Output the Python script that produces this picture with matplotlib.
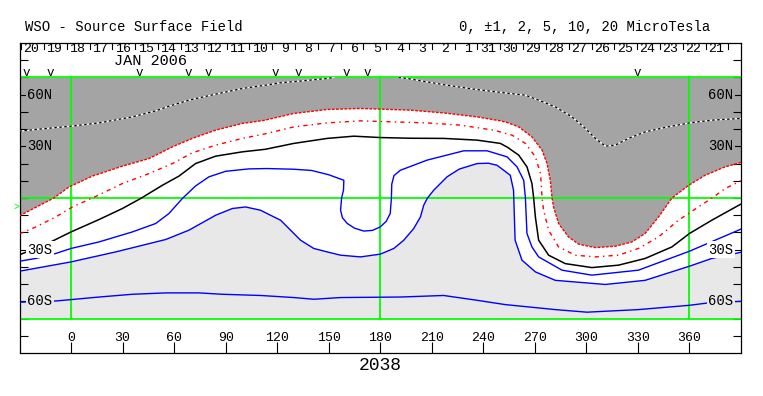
import matplotlib
matplotlib.use('Agg')
import matplotlib.pyplot as plt

plt.rcParams['font.family'] = ['Liberation Mono', 'DejaVu Sans Mono']

# contour lines of the source surface field, (longitude, latitude)
neg5_a = [(-30, 38.8), (-20.5, 39.8), (0, 41.7), (16.3, 43.6), (35.7, 47.1), (49.3, 50.6),
          (57, 53.3), (68.6, 56.8), (84.2, 60.3), (99.7, 63.6), (113.2, 65.5), (122, 66.9),
          (133.6, 67.9), (149, 69.4), (153, 70)]
neg5_b = [(190.6, 70), (195.6, 69.4), (207.3, 67.4), (218.9, 65.5), (234.4, 63.2), (252.8, 61),
          (264.5, 59.7), (272.2, 56.8), (281.9, 52.9), (291.6, 47.1), (299.4, 40.4), (305.2, 34.6),
          (311, 30.1), (316.8, 30.7), (324.5, 34.6), (334.2, 38.4), (345.9, 41), (360, 43.6),
          (373, 45.2), (390, 46.2)]
neg2 = [(-30, -10.3), (-10, 0), (-1.2, 6.4), (12.4, 12.7), (29.9, 18.5), (45.4, 22.9), (59, 29.7),
        (70.6, 34.6), (84.2, 39.4), (99.7, 43.3), (112, 45), (129.7, 49.1), (149.1, 51.4),
        (168.5, 52), (180, 51.6), (197.6, 51), (216.9, 49.4), (236.4, 47.1), (249.9, 44.8),
        (254, 43.8), (260.6, 41.3), (268.3, 35.5), (274.2, 27.8), (277.1, 20), (279, 10.3),
        (280, 0), (280.9, -5.2), (283.8, -14.8), (289.6, -22.6), (295.5, -26.8), (305.2, -28.8),
        (316.8, -28), (326.5, -25.5), (334.2, -20.6), (342, -11), (349.8, 0), (359.6, 7.4),
        (369.1, 13.2), (380.8, 18.1), (390, 20.6)]
neg1 = [(-30, -20.8), (-20.5, -16.8), (-8.9, -11), (0.8, -5.2), (13.5, 0.5), (29.9, 8.4),
        (45.4, 14.2), (59, 20), (70.6, 26.2), (84.2, 30.7), (99.7, 34.6), (113.2, 37.3),
        (129.7, 41.3), (149.1, 43.6), (168.5, 44.8), (187.9, 44.2), (207.3, 43.6), (226.6, 42.3),
        (246, 39.4), (256.7, 36.5), (264.5, 31.7), (270.3, 23.9), (273.3, 14.2), (274.2, 0),
        (275.1, -7.1), (278, -18.7), (283.8, -28.4), (293.5, -33.2), (305.2, -34.2),
        (318.7, -33.2), (330.3, -29.3), (342, -22.6), (353.6, -12.9), (365.2, -5.2),
        (374, 0.6), (380.8, 5.5), (390, 10)]
neutral = [(-30, -33), (-11.8, -25.5), (0, -19.7), (16.3, -12.5), (29.9, -6.1), (40.5, -0.3),
           (53.2, 7.4), (62.8, 12.7), (72.5, 20), (84.2, 24.3), (99.7, 26.8), (113.2, 28.3),
           (129.7, 31.7), (149.1, 34.6), (164.6, 35.9), (180, 35.1), (197.6, 34.7), (216.9, 34.6),
           (236.4, 33.6), (249.9, 31.7), (254, 29.5), (260.6, 24.9), (265.4, 18.1), (268.3, 8.4),
           (269.3, 0), (270.3, -11), (272.2, -24.5), (278, -33.2), (287.7, -38.1), (303.2, -40.4),
           (318.7, -39), (334.2, -35.1), (349.8, -28.4), (360, -20.6), (373, -12.9), (390, -3.5)]
pos1 = [(-30, -36.7), (-20.5, -35.1), (-8.9, -32.2), (0, -29.3), (16.3, -25.5), (35.7, -19.7),
        (49.3, -14.8), (57, -9), (64.8, -0.3), (72.5, 7), (80.3, 12.3), (90, 15.5),
        (103.5, 16.9), (114.2, 17.1), (129.7, 16.7), (140, 16), (150, 13.5), (158.8, 10.3),
        (158.6, 4.5), (157.5, 0), (156.9, -7.1), (158, -11.5), (160.8, -14.8), (165, -17.5),
        (170.4, -19.2), (175.5, -18.8), (180, -16.8), (183.5, -13.5), (185.8, -9), (186.5, 0),
        (186.7, 8), (188, 13), (191.7, 16.1), (207.3, 22), (228.6, 27.4), (242.2, 27.4),
        (253.8, 23.9), (259.6, 18.1), (263.5, 10.3), (264.5, 0), (265.4, -20.6), (268.3, -28.4),
        (272.2, -34.2), (285.8, -41.9), (303.2, -44.8), (330.3, -41.9), (360, -30.9),
        (388.5, -18.7), (390, -18)]
pos2 = [(-30, -42.5), (0, -37.1), (26, -31.3), (55.1, -24.1), (68.6, -18.7), (84.2, -10),
        (93.9, -6.1), (101.6, -5.2), (110.3, -7.1), (116.1, -10), (122, -12.9), (127.8, -18.7),
        (133.6, -24.5), (141.3, -29.3), (149.1, -31.3), (156.9, -33.2), (168.5, -34.2),
        (180, -32.6), (187.9, -29.3), (193.7, -24.5), (199.5, -17.7), (203.4, -11), (205.3, -4.2),
        (207.3, -0.3), (211.1, 4.5), (218.9, 12.3), (226, 16.8), (236.4, 20), (243, 20.2),
        (248, 19), (255.7, 13.2), (257.6, 4.5), (258.5, -24.5), (262.5, -36.1), (270.3, -42.9),
        (281.9, -47.8), (311, -50.2), (334.2, -47.8), (360, -39.6), (373, -35.1), (390, -31.5)]
pos5 = [(-30, -60.5), (-8.9, -59.8), (0, -59), (16.3, -57.5), (35.7, -55.9), (55.1, -55.1),
        (74.4, -55.1), (88, -55.9), (110.3, -56.6), (129.7, -57.8), (141.3, -58.8), (156.9, -57.8),
        (191.7, -57.5), (216.9, -56.6), (236.4, -59.4), (252.8, -61.9), (281.9, -64.8),
        (300.3, -66.3), (330.3, -64.8), (360, -62.3), (371, -60.9), (390, -60)]

# top axis: days of the rotation, right to left in time
day_labels = [20, 19, 18, 17, 16, 15, 14, 13, 12, 11, 10, 9, 8, 7, 6, 5, 4, 3, 2, 1,
              31, 30, 29, 28, 27, 26, 25, 24, 23, 22, 21]
first_day_lon = -23.0
deg_per_day = 13.28
obs_marks = [-26.3, -12, 39.9, 68.2, 80.1, 119, 132.6, 160, 172.3, 329.9]

lon_ticks = list(range(0, 361, 30))
lat_ticks = list(range(-80, 81, 10))
lat_labels = {60: '60N', 30: '30N', -30: '30S', -60: '60S'}

DARK = '#a4a4a4'
LIGHT = '#e8e8e8'
GREEN = '#00ff00'

fig = plt.figure(figsize=(7.63, 3.96), dpi=100)
ax = fig.add_axes([19.5 / 763, 43 / 396, 721.5 / 763, 310 / 396])
ax.set_xlim(-30, 390)
ax.set_ylim(-90, 90)


def xy(pts):
    return [p[0] for p in pts], [p[1] for p in pts]


# shaded polarity regions
xs, ys = xy(neg2 + [(390, 70), (-30, 70)])
ax.fill(xs, ys, color=DARK, lw=0, zorder=1)
xs, ys = xy(pos2 + [(390, -70), (-30, -70)])
ax.fill(xs, ys, color=LIGHT, lw=0, zorder=1)

# green reference lines
for lat in [70, 0, -70]:
    ax.plot([-30, 390], [lat, lat], color=GREEN, lw=1.3, zorder=2)
for lon in [0, 180, 360]:
    ax.plot([lon, lon], [-70, 70], color=GREEN, lw=1.3, zorder=2)

# contours
for seg in [neg5_a, neg5_b]:
    ax.plot(*xy(seg), color='white', lw=0.9, zorder=3)
    ax.plot(*xy(seg), color='black', lw=0.9, ls=(0, (2, 2)), zorder=3)
ax.plot(*xy(neg2), color='red', lw=1.0, ls=(0, (2, 1)), zorder=3)
ax.plot(*xy(neg1), color='red', lw=1.0, ls=(0, (3, 3, 1, 3)), zorder=3)
ax.plot(*xy(neutral), color='black', lw=1.1, zorder=3)
for c in [pos1, pos2, pos5]:
    ax.plot(*xy(c), color='blue', lw=1.0, zorder=3)

# axes ticks
ax.set_xticks(lon_ticks)
ax.set_xticklabels([])
ax.set_yticks(lat_ticks)
ax.set_yticklabels([])
ax.tick_params(axis='x', direction='in', length=8, width=0.8, top=False)
ax.tick_params(axis='y', direction='in', length=6, width=0.8, right=True)
for sp in ax.spines.values():
    sp.set_linewidth(0.9)

for lon in lon_ticks:
    ax.text(lon, -81.2, str(lon), ha='center', va='center', fontsize=9.5, zorder=5)

for lat, lab in lat_labels.items():
    bg = DARK if lat > 0 else ('white' if lat == -30 else LIGHT)
    box = dict(facecolor=bg, edgecolor='none', pad=1.0)
    ax.text(-25.6, lat, lab, ha='left', va='center', fontsize=10, bbox=box, zorder=6)
    ax.text(385.6, lat, lab, ha='right', va='center', fontsize=10, bbox=box, zorder=6)

# day labels along the top
for i, d in enumerate(day_labels):
    lon = first_day_lon + deg_per_day * i
    ax.text(lon, 86.8, '%2d' % d, ha='center', va='center', fontsize=9.5)
    ax.plot([lon - 6, lon - 6], [90, 86.4], color='black', lw=0.8)
last = first_day_lon + deg_per_day * len(day_labels)
ax.plot([last - 6, last - 6], [90, 86.4], color='black', lw=0.8)
ax.text(46.4, 79.4, 'JAN 2006', ha='center', va='center', fontsize=11)
for lon in obs_marks:
    ax.text(lon, 72.4, 'v', ha='center', va='center', fontsize=9)
ax.text(-31.8, -5, '>', ha='center', va='center', fontsize=7, color=GREEN, clip_on=False)

fig.text(25 / 763, 1 - 26.7 / 396, 'WSO - Source Surface Field', ha='left', va='center', fontsize=10)
fig.text(710 / 763, 1 - 26.7 / 396, '0, \u00b11, 2, 5, 10, 20 MicroTesla', ha='right', va='center', fontsize=10)
fig.text(380.5 / 763, 1 - 365.5 / 396, '2038', ha='center', va='center', fontsize=13)

fig.savefig('out.png', dpi=100)
